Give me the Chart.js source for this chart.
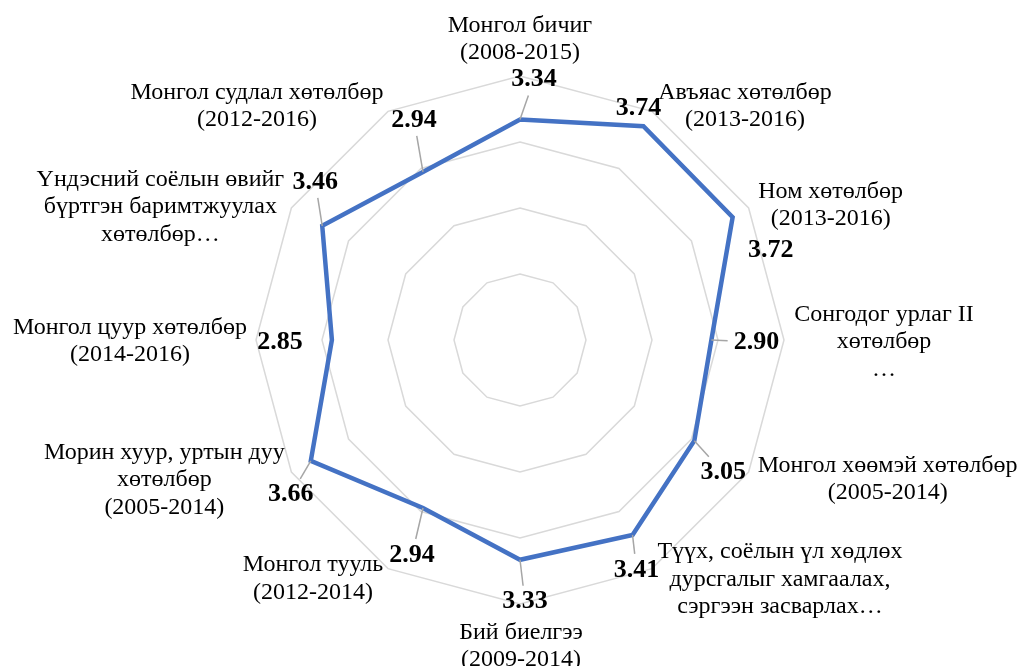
<!DOCTYPE html>
<html>
<head>
<meta charset="utf-8">
<script src="https://cdn.jsdelivr.net/npm/chart.js@4.4.1/dist/chart.umd.min.js"></script>
<style>
body{margin:0;background:#fff}
#wrap{width:1020px;height:666px}
</style>
</head>
<body>
<div id="wrap"><canvas id="myChart" width="1020" height="666"></canvas></div>
<script>
// categories (one entry per spoke, split into the lines shown)
const categories = [
	["Монгол бичиг", "(2008-2015)"],
	["Авъяас хөтөлбөр", "(2013-2016)"],
	["Ном хөтөлбөр", "(2013-2016)"],
	["Сонгодог урлаг II", "хөтөлбөр", "…"],
	["Монгол хөөмэй хөтөлбөр", "(2005-2014)"],
	["Түүх, соёлын үл хөдлөх", "дурсгалыг хамгаалах,", "сэргээн засварлах…"],
	["Бий биелгээ", "(2009-2014)"],
	["Монгол тууль", "(2012-2014)"],
	["Морин хуур, уртын дуу", "хөтөлбөр", "(2005-2014)"],
	["Монгол цуур хөтөлбөр", "(2014-2016)"],
	["Үндэсний соёлын өвийг", "бүртгэн баримтжуулах", "хөтөлбөр…"],
	["Монгол судлал хөтөлбөр", "(2012-2016)"]
]
const scores = [3.34, 3.74, 3.72, 2.90, 3.05, 3.41, 3.33, 2.94, 3.66, 2.85, 3.46, 2.94]
const scaleMin = 0
const scaleMax = 4
const scaleStep = 1

// label placement (pixels, relative to outer vertex / to the point)
const catShift = [[0,-37],[93,-5],[82,-3],[100,2],[139,7],[128,11],[1,42],[-75,10],[-127,8],[-126,1],[-131,-1],[-131,-5]]
const valShift = [[14,-40],[-5,-18],[38,33],[45,2],[29,32],[4,35],[5,42],[-11,47],[-20,34],[-52,2],[-7,-44],[-9,-52]]
const hasLeader = [1,0,0,1,1,1,1,1,1,0,1,1]

const serif = "'Liberation Serif', 'Times New Roman', serif"

const labelPlugin = {
	id: 'labels',
	afterDatasetsDraw(chart){
		const ctx = chart.ctx
		const scale = chart.scales.r
		const pts = chart.getDatasetMeta(0).data
		ctx.save()
		ctx.textAlign = 'center'
		ctx.textBaseline = 'middle'
		// value labels + leader lines
		ctx.font = 'bold 26px ' + serif
		scores.forEach((v,i)=>{
			const p = pts[i]
			const txt = v.toFixed(2)
			const lx = p.x + valShift[i][0], ly = p.y + valShift[i][1]
			if(hasLeader[i]){
				const hw = ctx.measureText(txt).width/2 + 6
				const hh = 10 + 6
				const dx = lx - p.x, dy = ly - p.y
				let t = 1
				if(Math.abs(dx) > 0.01) t = Math.min(t, Math.abs((Math.abs(dx)-hw)/dx))
				if(Math.abs(dy) > 0.01) t = Math.min(t, Math.abs((Math.abs(dy)-hh)/dy))
				const tx = Math.abs(dx) > hw || Math.abs(dy) > hh ? Math.max(
					Math.abs(dx) > hw ? (Math.abs(dx)-hw)/Math.abs(dx) : 0,
					Math.abs(dy) > hh ? (Math.abs(dy)-hh)/Math.abs(dy) : 0) : 0
				ctx.strokeStyle = '#a6a6a6'
				ctx.lineWidth = 1.5
				ctx.beginPath()
				ctx.moveTo(p.x, p.y)
				ctx.lineTo(p.x + dx*tx, p.y + dy*tx)
				ctx.stroke()
			}
			ctx.fillStyle = '#000'
			ctx.fillText(txt, lx, ly)
		})
		// category labels
		ctx.font = '24px ' + serif
		ctx.fillStyle = '#000'
		const lh = 27.5
		categories.forEach((lines,i)=>{
			const o = scale.getPointPosition(i, scale.drawingArea)
			const cx = o.x + catShift[i][0]
			const cy = o.y + catShift[i][1]
			const y0 = cy - (lines.length-1)*lh/2
			lines.forEach((s,k)=>ctx.fillText(s, cx, y0 + k*lh))
		})
		ctx.restore()
	}
}

const ctx = document.getElementById('myChart').getContext('2d')
new Chart(ctx, {
	type: 'radar',
	data: {
		labels: categories,
		datasets: [{
			data: scores,
			borderColor: '#4472C4',
			borderWidth: 4.5,
			borderJoinStyle: 'miter',
			fill: false,
			pointRadius: 0,
			pointHoverRadius: 0,
			tension: 0
		}]
	},
	options: {
		responsive: false,
		animation: false,
		layout: {padding: {left: 256, right: 236, top: 76, bottom: 62}},
		plugins: {legend: {display: false}, tooltip: {enabled: false}},
		scales: {
			r: {
				min: scaleMin,
				max: scaleMax,
				ticks: {display: false, stepSize: scaleStep},
				grid: {color: '#d9d9d9', lineWidth: 1.5, circular: false},
				angleLines: {display: false},
				pointLabels: {display: false}
			}
		}
	},
	plugins: [labelPlugin]
})
</script>
</body>
</html>
